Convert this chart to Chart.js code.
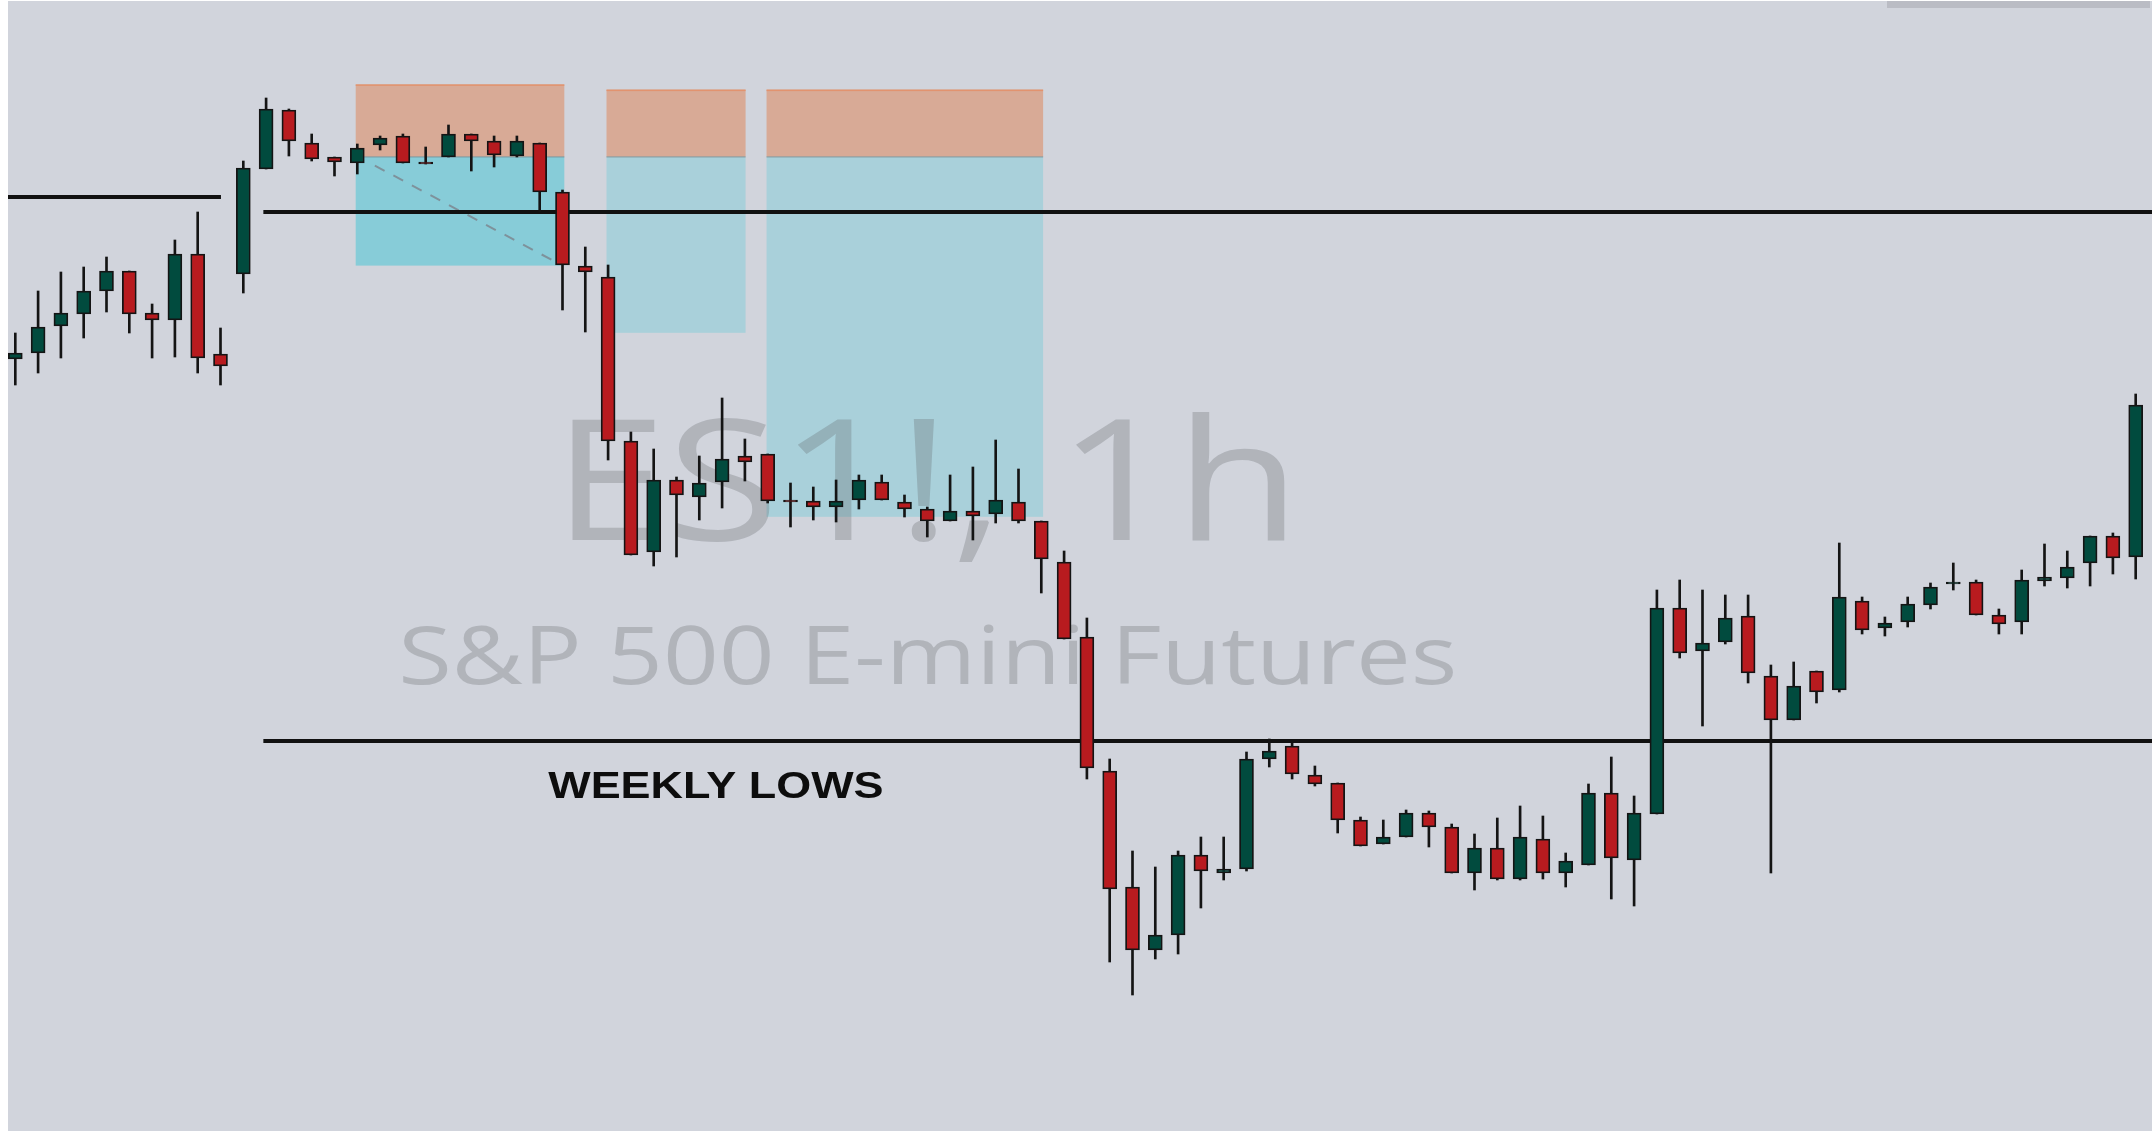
<!DOCTYPE html>
<html>
<head>
<meta charset="utf-8">
<script src="https://cdn.jsdelivr.net/npm/chart.js@4.4.1/dist/chart.umd.min.js"></script>
<style>
  html, body { margin: 0; padding: 0; background: #ffffff; }
  #wrap { width: 2152px; height: 1131px; }
  canvas { display: block; }
</style>
</head>
<body>
<div id="wrap"><canvas id="c" width="2152" height="1131"></canvas></div>
<script>
// ---- Data (ES1! 1h candles) ----
const opens = [4310.25,4311.75,4318.5,4321.5,4327.25,4332.25,4321.75,4320,4336.5,4311.5,
  4331.5,4357.75,4372.5,4364.25,4360.75,4359.25,4363.75,4366,4359.5,4360.75,
  4366.5,4364.75,4361,4364.25,4352,4333.5,4330.75,4289.75,4262,4280,
  4275.75,4279.5,4286,4286.5,4275,4274.75,4273.25,4275,4279.5,4274.5,
  4272.75,4269.75,4272.25,4271.5,4274.5,4269.75,4259.5,4240.75,4207.25,4178.25,
  4162.5,4166.25,4186.25,4181.75,4182.75,4210.25,4213.5,4206.25,4204.25,4195,
  4189,4190.75,4196.75,4193.25,4181.75,4188,4180.25,4190.25,4181.75,4183.75,
  4201.75,4185,4196.5,4248,4237.25,4239.5,4246,4231,4220,4232.25,
  4227.5,4249.75,4243,4244.5,4248.75,4254,4254.5,4246.25,4244.5,4254.75,
  4255.5,4259.25,4266,4260.75];
const highs = [4316.75,4327.25,4332,4333.25,4335.75,4332.25,4324,4340,4347,4318,
  4359.75,4375.5,4372.75,4366.5,4360.75,4364,4366,4366.5,4363.25,4368.75,
  4366.5,4366,4366,4364.25,4352.5,4338.25,4333.75,4292,4287.75,4280.75,
  4286,4300.5,4290.25,4286.5,4279.25,4278.25,4280,4281.25,4281.25,4276.25,
  4273.25,4281.25,4283.25,4290,4282.75,4269.75,4262.25,4245.5,4210.25,4187.25,
  4183.25,4187.25,4190.75,4190.75,4212,4215.25,4214.25,4208.5,4204.25,4195.75,
  4195,4197.5,4197.25,4194,4191.5,4195.5,4198.5,4196,4186.75,4204,
  4210.75,4201,4252.5,4255,4252.5,4251.25,4251.25,4233.75,4234.5,4232.25,
  4264.25,4250.75,4245.75,4250.75,4254.25,4259.25,4255,4247.75,4257.5,4264,
  4262.25,4266,4266.75,4301.5];
const lows = [4303.75,4306.75,4310.5,4315.5,4322,4316.75,4310.5,4310.75,4306.75,4303.75,
  4326.75,4357.75,4361,4359.75,4356,4356.5,4362.5,4359.25,4359,4360.75,
  4357.25,4358.25,4360.75,4347,4322.5,4317,4285,4261.25,4258.5,4260.75,
  4270,4273,4279.75,4274.25,4268.25,4270,4269.5,4272.75,4275,4270.75,
  4265.75,4269.75,4265,4269.25,4269.25,4251.75,4240.25,4205.25,4159.5,4151.25,
  4160.25,4161.5,4173,4180,4182.25,4208.25,4205.25,4203.5,4191.75,4188.5,
  4189,4190.75,4188.25,4181.75,4177.5,4180,4180,4180.25,4178.25,4183.75,
  4175.25,4173.5,4196.5,4235.5,4218.5,4239,4229.25,4181.75,4220,4224.25,
  4227,4241.5,4241,4243.25,4247.75,4252.5,4246.25,4241.5,4241.5,4253.5,
  4253,4253.5,4256.5,4255.25];
const closes = [4311.75,4318.25,4321.75,4327.25,4332.25,4321.5,4320,4336.5,4310.5,4308.5,
  4358,4372.75,4364.75,4360.25,4359.5,4363,4365.5,4359.25,4359,4366.5,
  4364.75,4361.25,4364.75,4352,4333.75,4332,4289.75,4261.25,4280,4276.25,
  4279.25,4285.25,4284.5,4274.75,4274.5,4273.25,4274.75,4280,4275,4272.75,
  4269.75,4272.25,4271,4275,4269.75,4260.25,4240.25,4208,4177.75,4162.5,
  4166.25,4186.25,4182.25,4182.75,4210.25,4212.25,4206.5,4204,4195,4188.5,
  4190.75,4196.75,4193.25,4181.75,4188,4180.25,4190.75,4181.75,4184.75,4201.75,
  4185.5,4196.75,4248,4236.75,4239.25,4245.5,4231.75,4220,4228.5,4227,
  4250.75,4242.5,4244.25,4249,4253.25,4254.5,4246.25,4244,4255,4255.75,
  4258.25,4266,4260.5,4298.75];

// Horizontal levels: [price, fromIndex, toIndex]  (null = chart edge)
const levelPrices = [4350.75, 4347, 4214.75];
const levelFrom   = [null, 10.88, 10.88];
const levelTo     = [9.02, null, null];

// Position-tool boxes: index range, target top, entry, stop bottom
const boxFrom   = [14.93, 25.93, 32.95];
const boxTo     = [24.08, 32.03, 45.08];
const boxTop    = [4378.9, 4377.6, 4377.6];
const boxEntry  = [4360.8, 4360.8, 4360.8];
const boxBottom = [4333.6, 4316.8, 4270.8];
const boxBlue   = ['#87ccd8', '#a9d0da', '#a9d0da'];

// Dashed path inside the first box: [index, price]
const dashFrom = [15.77, 4358.6];
const dashTo   = [23.67, 4334.6];

const labelText = 'WEEKLY LOWS';
const labelAt = [30.7, 4200.5];

const UP = '#014b3e', DOWN = '#b81b1f', EDGE = '#141414';

const idx = opens.map((_, i) => i);
const bodyColors = idx.map(i => closes[i] >= opens[i] ? UP : DOWN);

function fitText(ctx, text, font, left, right, baseline, color) {
  ctx.save();
  ctx.font = font;
  ctx.fillStyle = color;
  ctx.textAlign = 'left';
  ctx.textBaseline = 'alphabetic';
  const m = ctx.measureText(text);
  const ink = m.actualBoundingBoxLeft + m.actualBoundingBoxRight;
  const s = (right - left) / ink;
  ctx.translate(left, baseline);
  ctx.scale(s, 1);
  ctx.fillText(text, m.actualBoundingBoxLeft, 0);
  ctx.restore();
}

const scene = {
  id: 'scene',
  beforeDraw(chart) {
    const c = chart.ctx;
    c.save();
    c.fillStyle = '#d1d4dc';
    c.fillRect(0, 0, chart.width, chart.height);
    c.restore();
  },
  beforeDatasetsDraw(chart) {
    const c = chart.ctx, xs = chart.scales.x, ys = chart.scales.y;
    const X = v => xs.getPixelForValue(v), Y = v => ys.getPixelForValue(v);
    c.save();
    // boxes
    for (let b = 0; b < boxFrom.length; b++) {
      const x0 = X(boxFrom[b]), x1 = X(boxTo[b]);
      const yt = Y(boxTop[b]), ye = Y(boxEntry[b]), yb = Y(boxBottom[b]);
      c.fillStyle = '#d8aa96';
      c.fillRect(x0, yt, x1 - x0, ye - yt);
      c.fillStyle = boxBlue[b];
      c.fillRect(x0, ye, x1 - x0, yb - ye);
      c.fillStyle = '#e2936f';
      c.fillRect(x0, yt, x1 - x0, 1.5);
      c.fillStyle = 'rgba(110,130,135,0.6)';
      c.fillRect(x0, ye - 0.5, x1 - x0, 1.2);
    }
    // dashed path
    c.strokeStyle = 'rgba(125,135,145,0.85)';
    c.lineWidth = 2;
    c.setLineDash([11, 10]);
    c.beginPath();
    c.moveTo(X(dashFrom[0]), Y(dashFrom[1]));
    c.lineTo(X(dashTo[0]), Y(dashTo[1]));
    c.stroke();
    c.setLineDash([]);
    // watermark
    const wm = 'rgba(95,96,102,0.28)';
    fitText(c, 'ES1!, 1h', '168px "Open Sans", sans-serif', 572, 1285, 540, wm);
    fitText(c, 'S&P 500 E-mini Futures', '81px "Open Sans", sans-serif', 403, 1453, 684, wm);
    // horizontal levels
    c.fillStyle = '#111111';
    for (let k = 0; k < levelPrices.length; k++) {
      const x0 = levelFrom[k] === null ? chart.chartArea.left : X(levelFrom[k]);
      const x1 = levelTo[k] === null ? chart.chartArea.right : X(levelTo[k]);
      const yy = Math.round(Y(levelPrices[k]) - 2);
      c.fillRect(x0, yy, x1 - x0, 4);
    }
    c.restore();
  },
  afterDraw(chart) {
    const c = chart.ctx, xs = chart.scales.x, ys = chart.scales.y;
    c.save();
    // label
    const cx = xs.getPixelForValue(labelAt[0]);
    const by = ys.getPixelForValue(labelAt[1]);
    fitText(c, labelText, 'bold 36px "Liberation Sans", Arial, sans-serif', cx - 167, cx + 167, by, '#0d0d0d');
    // frame details
    c.fillStyle = '#ffffff';
    c.fillRect(0, 0, 8, chart.height);
    c.fillRect(0, 0, chart.width, 1);
    c.fillStyle = '#babcc4';
    c.fillRect(1887, 1, 263, 7);
    c.restore();
  }
};

new Chart(document.getElementById('c'), {
  type: 'bar',
  data: {
    datasets: [
      {
        label: 'body',
        data: idx.map(i => ({ x: i, y: [opens[i], closes[i]] })),
        backgroundColor: bodyColors,
        borderColor: EDGE,
        borderWidth: 1.8,
        borderSkipped: false,
        barThickness: 14,
        grouped: false,
        order: 0
      },
      {
        label: 'wick',
        data: idx.map(i => ({ x: i, y: [lows[i], highs[i]] })),
        backgroundColor: EDGE,
        borderWidth: 0,
        barThickness: 2,
        grouped: false,
        order: 1
      }
    ]
  },
  options: {
    responsive: false,
    animation: false,
    events: [],
    layout: { padding: 0 },
    plugins: { legend: { display: false }, tooltip: { enabled: false } },
    scales: {
      x: { type: 'linear', min: -0.671, max: 93.715, offset: false, display: false, grid: { offset: false } },
      y: { type: 'linear', min: 4117.25, max: 4400, display: false }
    }
  },
  plugins: [scene]
});
</script>
</body>
</html>
